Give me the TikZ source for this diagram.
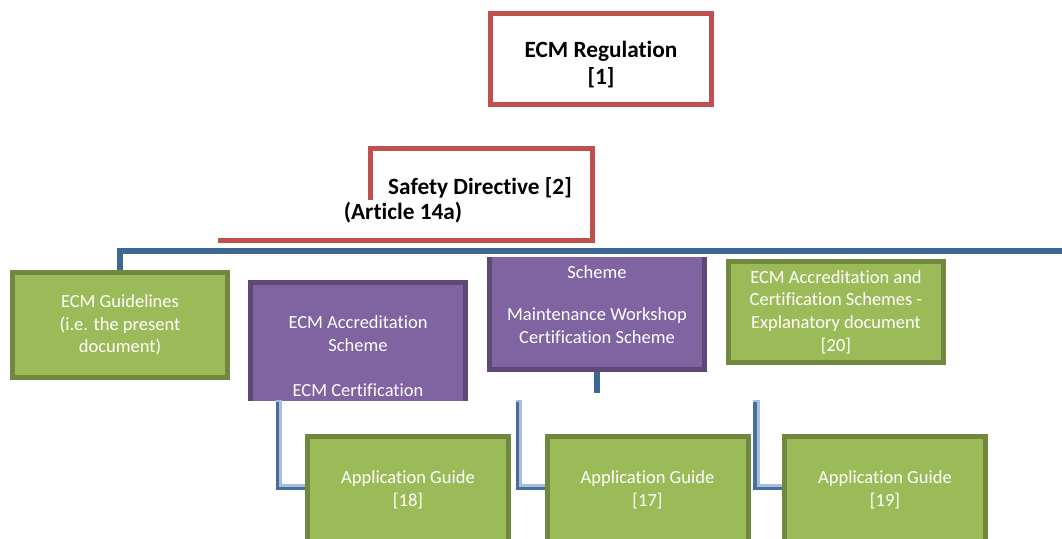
\documentclass[tikz,border=0pt]{standalone}
\usepackage{fontspec}
\setmainfont[Ligatures=NoCommon]{Carlito}
\definecolor{redline}{RGB}{192,80,77}
\definecolor{busblue}{RGB}{60,103,150}
\definecolor{greenfill}{RGB}{155,187,89}
\definecolor{greenline}{RGB}{113,137,63}
\definecolor{purplefill}{RGB}{128,100,162}
\definecolor{purpleline}{RGB}{93,72,120}
\definecolor{connblue}{RGB}{70,110,165}
\tikzset{
  boxtext/.style={font=\fontsize{18.5}{22.7}\selectfont, text=white, align=center, inner sep=0pt},
  greenbox/.style={boxtext, draw=greenline, fill=greenfill, line width=5pt},
  purplebox/.style={boxtext, draw=purpleline, fill=purplefill, line width=5pt},
  redbox/.style={draw=redline, line width=5pt, fill=white},
  boldtext/.style={font=\bfseries\fontsize{23.3}{27}\selectfont, align=center, inner sep=0pt},
  bus/.style={draw=busblue, line width=6pt},
  connlight/.style={draw=connblue!45, line width=6.5pt},
  conndark/.style={draw=connblue, line width=3.5pt, transform canvas={xshift=-1.5pt,yshift=-1.5pt}},
}
\begin{document}
\begin{tikzpicture}[x=1pt,y=-1pt]
\useasboundingbox (0,0) rectangle (1062,538);
\clip (0,0) rectangle (1062,538);

% top level: regulation
\node[redbox, minimum width=221pt, minimum height=91pt] (reg) at (601,59) {};
\node[boldtext] (regtxt) at (601,65) {ECM Regulation\\{[1]}};

% safety directive frame (partly open on the left)
\coordinate (sdA) at (370.5,200);
\coordinate (sdB) at (370.5,148.5);
\coordinate (sdC) at (592.5,148.5);
\coordinate (sdD) at (592.5,240.5);
\coordinate (sdE) at (218,240.5);
\draw[draw=redline, line width=5pt] (sdA) -- (sdB) -- (sdC) -- (sdD) -- (sdE);
\node[boldtext] (sd) at (480,188) {Safety Directive [2]};
\node[boldtext] (art) at (403,213) {(Article 14a)};

% second level
\node[greenbox, minimum width=215pt, minimum height=105pt] (guide) at (120,325)
  {ECM Guidelines\\(i.e. the present\\document)};
\coordinate (busend) at (1062,251);
\draw[bus] (guide.north) |- (busend);

\node[greenbox, minimum width=215pt, minimum height=101pt] (expl) at (836,312)
  {ECM Accreditation and\\Certification Schemes -\\Explanatory document\\{[20]}};

% connector stub under the workshop scheme
\coordinate (stubtop) at (597,370);
\coordinate (stubend) at (597,393);
\draw[draw=busblue, line width=6pt] (stubtop) -- (stubend);

\begin{scope}
  \clip (0,0) rectangle (1062,400);
  \node[purplebox, minimum width=215pt, minimum height=148pt] (ecmacc) at (358,356.5)
    {ECM Accreditation\\Scheme\\[22.7pt]ECM Certification};
\end{scope}

\begin{scope}
  \clip (0,257) rectangle (1062,538);
  \node[purplebox, minimum width=215pt, minimum height=130pt] (mw) at (597,304.5)
    {Scheme\\[20pt]Maintenance Workshop\\Certification Scheme};
\end{scope}

% application guides and their elbow connectors
\coordinate (c1) at (279,400);
\coordinate (c2) at (519,400);
\coordinate (c3) at (756.5,400);
\coordinate (e1) at (310,487);
\coordinate (e2) at (550,487);
\coordinate (e3) at (787,487);
\foreach \c/\e in {c1/e1,c2/e2,c3/e3}{
  \draw[connlight] (\c) |- (\e);
  \draw[conndark] (\c) |- (\e);
}
\node[greenbox, minimum width=201pt, minimum height=106pt] (ag18) at (408,489.5)
  {Application Guide\\{[18]}};
\node[greenbox, minimum width=201pt, minimum height=106pt] (ag17) at (647.5,489.5)
  {Application Guide\\{[17]}};
\node[greenbox, minimum width=201pt, minimum height=106pt] (ag19) at (885,489.5)
  {Application Guide\\{[19]}};
\end{tikzpicture}
\end{document}
